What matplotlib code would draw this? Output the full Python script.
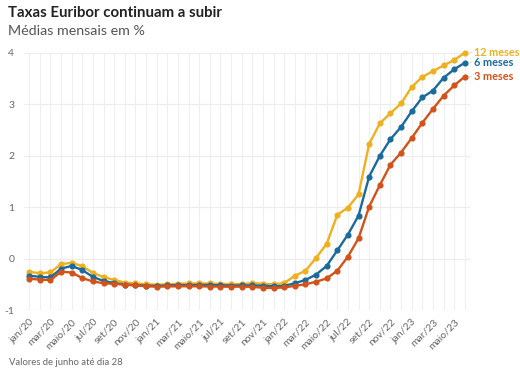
import matplotlib
matplotlib.use('agg')
import matplotlib.pyplot as plt
import numpy as np

# Monthly averages, jan/20 .. jun/23 (jun up to day 28)
months_pt = ['jan', 'fev', 'mar', 'abr', 'maio', 'jun', 'jul', 'ago', 'set', 'out', 'nov', 'dez']
years = ['20', '21', '22', '23']
labels = [f'{m}/{y}' for y in years for m in months_pt][:42]

euribor_12m = [-0.253, -0.288, -0.266, -0.108, -0.081, -0.147, -0.279, -0.359, -0.415, -0.466,
               -0.481, -0.499, -0.505, -0.501, -0.487, -0.484, -0.481, -0.484, -0.491, -0.498,
               -0.492, -0.477, -0.487, -0.502, -0.477, -0.335, -0.237, 0.013, 0.287, 0.852,
               0.992, 1.249, 2.233, 2.629, 2.828, 3.018, 3.337, 3.534, 3.647, 3.757, 3.862, 4.005]
euribor_6m = [-0.330, -0.356, -0.366, -0.193, -0.143, -0.223, -0.358, -0.435, -0.474, -0.504,
              -0.516, -0.526, -0.531, -0.523, -0.516, -0.517, -0.513, -0.514, -0.519, -0.525,
              -0.522, -0.521, -0.527, -0.539, -0.532, -0.479, -0.416, -0.311, -0.143, 0.160,
              0.467, 0.837, 1.596, 1.997, 2.321, 2.560, 2.864, 3.135, 3.267, 3.516, 3.682, 3.810]
euribor_3m = [-0.391, -0.409, -0.417, -0.254, -0.271, -0.380, -0.444, -0.480, -0.491, -0.509,
              -0.522, -0.538, -0.547, -0.541, -0.539, -0.538, -0.539, -0.543, -0.545, -0.548,
              -0.545, -0.550, -0.567, -0.573, -0.560, -0.531, -0.500, -0.450, -0.386, -0.236,
              0.038, 0.395, 1.011, 1.428, 1.825, 2.063, 2.345, 2.640, 2.911, 3.167, 3.368, 3.540]

series = [('12 meses', euribor_12m, '#efb020'),
          ('6 meses', euribor_6m, '#1b6a9c'),
          ('3 meses', euribor_3m, '#d2521a')]

plt.rcParams['font.family'] = ['Lato', 'DejaVu Sans']

fig = plt.figure(figsize=(5.2, 3.68), dpi=100)
ax = fig.add_axes([0.046, 1 - 310 / 368, 0.858, (310 - 53) / 368])

x = np.arange(len(labels))
for name, vals, col in series:
    ax.plot(x, vals, color=col, lw=1.7, marker='o', ms=3.4, clip_on=False, zorder=3)
    # small connector dash, then the label
    ax.annotate('-', xy=(x[-1], vals[-1]), xytext=(2.5, 0), textcoords='offset points',
                va='center', ha='left', fontsize=6, color='#bbbbbb')
    ax.annotate(name, xy=(x[-1], vals[-1]), xytext=(6.5, 0), textcoords='offset points',
                va='center', ha='left', fontsize=7.8, fontweight='bold', color=col)

ax.set_xlim(-0.5, len(labels) - 0.5)
ax.set_ylim(-1, 4)
ax.set_yticks([-1, 0, 1, 2, 3, 4])
ax.set_yticklabels(['-1', '0', '1', '2', '3', '4'])
ax.set_xticks(x[::2])
ax.set_xticklabels(labels[::2], rotation=45, ha='right', rotation_mode='anchor')
ax.set_xticks(x, minor=True)

ax.grid(True, which='both', axis='x', color='#efefef', lw=0.8)
ax.grid(True, axis='y', color='#ececec', lw=0.8)
ax.set_axisbelow(True)
for s in ax.spines.values():
    s.set_visible(False)
ax.tick_params(axis='both', which='both', length=0, labelsize=7.5, labelcolor='#666666')
ax.tick_params(axis='y', pad=7)
ax.tick_params(axis='x', pad=5)

fig.text(0.015, 0.965, 'Taxas Euribor continuam a subir', fontsize=10.8, fontweight='bold',
         color='#222222', va='center')
fig.text(0.015, 0.915, 'Médias mensais em %', fontsize=10.3, color='#555555', va='center')
fig.text(0.018, 0.016, 'Valores de junho até dia 28', fontsize=6.8, color='#666666', va='center')

fig.savefig('out.png', dpi=100)
